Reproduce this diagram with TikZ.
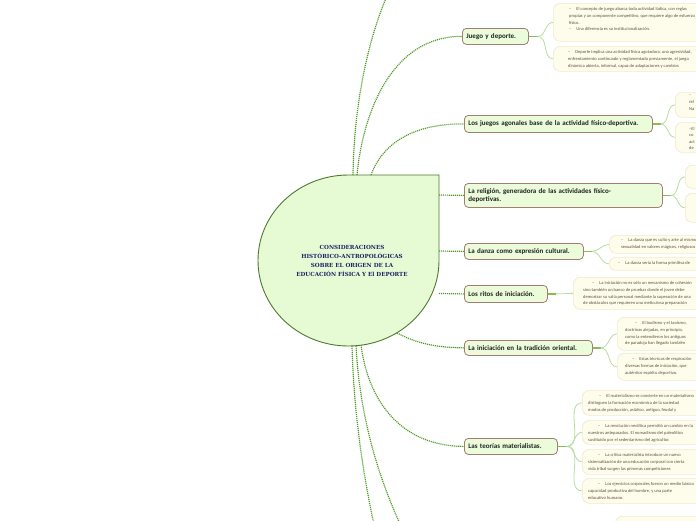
\documentclass[tikz,border=0pt]{standalone}
\usepackage{fontspec}
\setmainfont{Carlito}
\newfontfamily\ctrfont{DejaVu Serif}
\definecolor{ctrfill}{HTML}{E6FAD4}
\definecolor{ctrborder}{HTML}{4E7A2E}
\definecolor{ctrtext}{HTML}{1F2366}
\definecolor{topfill}{HTML}{EAFCDA}
\definecolor{topborder}{HTML}{A57C74}
\definecolor{toptext}{HTML}{222222}
\definecolor{subfill}{HTML}{FEFDEB}
\definecolor{subborder}{HTML}{F1EBCB}
\definecolor{subtext}{HTML}{5E4E40}
\definecolor{dotgreen}{HTML}{4E9A22}
\definecolor{stubgreen}{HTML}{86BE56}
\definecolor{linkgreen}{HTML}{B8DDA0}
\begin{document}
\begin{tikzpicture}[x=1pt,y=-1pt,
 topic/.style={draw=topborder, fill=topfill, line width=0.8pt, rounded corners=4pt, anchor=north west, inner xsep=4pt, inner ysep=0pt, align=left, font=\fontsize{7}{8.3}\selectfont\bfseries, text=toptext},
 subbox/.style={draw=subborder, fill=subfill, line width=0.7pt, rounded corners=7pt, anchor=north west, inner sep=0pt},
 subtxt/.style={anchor=north west, inner sep=0pt, align=left, font=\fontsize{4.5}{6.8}\selectfont, text=subtext},
 mainlink/.style={draw=dotgreen, line width=1.2pt, dash pattern=on 1.1pt off 0.9pt},
 stub/.style={draw=stubgreen, line width=1.6pt},
 sublink/.style={draw=linkgreen, line width=0.8pt},
]
\path[use as bounding box, fill=white] (0,0) rectangle (696,520);
\clip (0,0) rectangle (696,520);

% central shape
\path[draw=ctrborder, fill=ctrfill, line width=0.9pt] (348.5,175) -- (439,175) -- (439,260.5)
  arc[start angle=0, end angle=270, x radius=90.5, y radius=85.5] -- cycle;
\node[font=\ctrfont\bfseries\fontsize{5.6}{8.9}\selectfont, text=ctrtext, align=center, inner sep=0pt] (ctr) at (352,261)
 {CONSIDERACIONES\\HISTÓRICO-ANTROPOLÓGICAS\\SOBRE EL ORIGEN DE LA\\EDUCACIÓN FÍSICA Y El DEPORTE};

% anchor points on the central shape
\coordinate (cUp) at (353,175);
\coordinate (cT1) at (357,175);
\coordinate (cT2) at (371,175);
\coordinate (cT3) at (439,195);
\coordinate (cT4) at (439,251);
\coordinate (cT5) at (439,293.5);
\coordinate (cT6) at (397,333);
\coordinate (cT7) at (361,345);
\coordinate (cB1) at (352,346);
\coordinate (cB2) at (356,346);
\coordinate (ot) at (392,-15);
\coordinate (ob1) at (382,560);
\coordinate (ob2) at (418,560);

% topics
\node[topic, text width=58pt, minimum height=16pt] (t1) at (462,28) {Juego y deporte.};
\node[topic, text width=180pt, minimum height=17pt] (t2) at (464,115) {Los juegos agonales base de la actividad físico-deportiva.};
\node[topic, text width=190pt, minimum height=24pt] (t3) at (464,183) {La religión, generadora de las actividades físico-\\deportivas.};
\node[topic, text width=111pt, minimum height=16pt] (t4) at (464,243) {La danza como expresión cultural.};
\node[topic, text width=75pt, minimum height=17pt] (t5) at (464,285) {Los ritos de iniciación.};
\node[topic, text width=120pt, minimum height=15pt] (t6) at (464,340) {La iniciación en la tradición oriental.};
\node[topic, text width=85pt, minimum height=16pt] (t7) at (464,438) {Las teorías materialistas.};

% main dotted links
\draw[mainlink] (cUp) .. controls (354,100) and (370,30) .. (ot);
\draw[mainlink] (cT1) .. controls (363,112) and (392,36) .. (t1.west);
\draw[mainlink] (cT2) .. controls (380,150) and (405,123.5) .. (t2.west);
\draw[mainlink] (cT3) -- (t3.west);
\draw[mainlink] (cT4) -- (t4.west);
\draw[mainlink] (cT5) -- (t5.west);
\draw[mainlink] (cT6) .. controls (420,345) and (440,347.5) .. (t6.west);
\draw[mainlink] (cT7) .. controls (368,400) and (400,446) .. (t7.west);
\draw[mainlink] (cB1) .. controls (354,420) and (365,490) .. (ob1);
\draw[mainlink] (cB2) .. controls (360,420) and (380,490) .. (ob2);

% sub boxes
\node[subbox, minimum width=200pt, minimum height=38pt] (s11) at (553,3) {};
\node[subbox, minimum width=200pt, minimum height=25pt] (s12) at (553,46) {};
\node[subbox, minimum width=60pt, minimum height=25pt] (s21) at (675,92) {};
\node[subbox, minimum width=60pt, minimum height=30pt] (s22) at (675,122) {};
\node[subbox, minimum width=40pt, minimum height=23pt] (s31) at (685,165) {};
\node[subbox, minimum width=40pt, minimum height=29pt] (s32) at (685,193) {};
\node[subbox, minimum width=120pt, minimum height=18pt] (s41) at (609,235) {};
\node[subbox, rounded corners=6pt, minimum width=120pt, minimum height=13pt] (s42) at (609,257) {};
\node[subbox, minimum width=160pt, minimum height=32pt] (s51) at (573,277) {};
\node[subbox, minimum width=120pt, minimum height=33pt] (s61) at (617,317) {};
\node[subbox, minimum width=120pt, minimum height=27pt] (s62) at (617,353) {};
\node[subbox, minimum width=150pt, minimum height=25pt] (s71) at (582,390) {};
\node[subbox, minimum width=150pt, minimum height=24pt] (s72) at (582,420) {};
\node[subbox, minimum width=150pt, minimum height=25pt] (s73) at (582,449) {};
\node[subbox, minimum width=150pt, minimum height=25pt] (s74) at (582,478) {};
\node[subbox, minimum width=120pt, minimum height=30pt] (s81) at (615,516) {};

% sub texts
\node[subtxt] (s11t) at (569,7.1) {–\hspace{5pt}El concepto de juego abarca toda actividad lúdica, con reglas\\propias y un componente competitivo, que requiere algo de esfuerzo\\físico.\\–\hspace{5pt}Una diferencia es su institucionalización.};
\node[subtxt] (s12t) at (568,50.1) {–\hspace{5pt}Deporte implica una actividad física agotadora, una agresividad,\\enfrentamiento continuado y reglamentado previamente, el juego\\dinámica abierta, informal, capaz de adaptaciones y cambios};
\node[subtxt] (s21t) at (689,95.1) {–\\rel\\Na};
\node[subtxt, font=\fontsize{4.5}{6.5}\selectfont] (s22t) at (689,127.1) {–El\\co\\act\\de};
\node[subtxt] (s41t) at (621,238.1) {–\hspace{5pt}La danza que es culto y arte al mismo\\sexualidad en valores mágicos, religiosos};
\node[subtxt] (s42t) at (618,261.1) {–\hspace{5pt}La danza sería la forma primitiva de};
\node[subtxt] (s51t) at (583,281.1) {\hspace{9pt}–\hspace{5pt}La iniciación no es sólo un mecanismo de cohesión\\sino también un banco de pruebas donde el joven debe\\demostrar su valía personal mediante la superación de una\\de obstáculos que requieren una meticulosa preparación};
\node[subtxt] (s61t) at (625,321.1) {\hspace{10pt}–\hspace{5pt}El budismo y el taoísmo,\\doctrinas alejadas, en principio,\\como la entendieron los antiguos\\de paradoja han llegado también};
\node[subtxt] (s62t) at (625,357.1) {\hspace{7pt}–\hspace{5pt}Estas técnicas de respiración\\diversas formas de iniciación, que\\auténtico espíritu deportivo.};
\node[subtxt] (s71t) at (588,394.1) {\hspace{11pt}–\hspace{5pt}El materialismo se convierte en un materialismo\\distinguen la formación económica de la sociedad\\modos de producción, asiático, antiguo, feudal y};
\node[subtxt] (s72t) at (588,424.1) {\hspace{10pt}–\hspace{5pt}La revolución neolítica permitió un cambio en la\\nuestros antepasados. El nomadismo del paleolítico\\sustituido por el sedentarismo del agricultor.};
\node[subtxt] (s73t) at (588,453.1) {\hspace{10pt}–\hspace{5pt}La crítica materialista introduce un nuevo\\sistematización de una educación corporal con cierta\\vida tribal surgen las primeras competiciones};
\node[subtxt] (s74t) at (588,482.1) {\hspace{10pt}–\hspace{5pt}Los ejercicios corporales fueron un medio básico\\capacidad productiva del hombre, y una parte\\educativo humano.};

% stubs and sub links
\draw[stub] (t1.east) -- ++(9,0) coordinate (t1b);
\draw[sublink] (t1b) to[out=0,in=180] (s11.west);
\draw[sublink] (t1b) to[out=0,in=180] (s12.west);
\draw[stub] (t2.east) -- ++(8,0) coordinate (t2b);
\draw[sublink] (t2b) to[out=0,in=180] (s21.west);
\draw[sublink] (t2b) to[out=0,in=180] (s22.west);
\draw[stub] (t3.east) -- ++(8,0) coordinate (t3b);
\draw[sublink] (t3b) to[out=0,in=180] (s31.west);
\draw[sublink] (t3b) to[out=0,in=180] (s32.west);
\draw[stub] (t4.east) -- ++(8,0) coordinate (t4b);
\draw[sublink] (t4b) to[out=0,in=180] (s41.west);
\draw[sublink] (t4b) to[out=0,in=180] (s42.west);
\draw[stub] (t5.east) -- ++(8,0) coordinate (t5b);
\draw[sublink] (t5b) to[out=0,in=180] (s51.west);
\draw[stub] (t6.east) -- ++(8,0) coordinate (t6b);
\draw[sublink] (t6b) to[out=0,in=180] (s61.west);
\draw[sublink] (t6b) to[out=0,in=180] (s62.west);
\draw[stub] (t7.east) -- ++(9,0) coordinate (t7b);
\draw[sublink] (t7b) to[out=0,in=180] (s71.west);
\draw[sublink] (t7b) to[out=0,in=180] (s72.west);
\draw[sublink] (t7b) to[out=0,in=180] (s73.west);
\draw[sublink] (t7b) to[out=0,in=180] (s74.west);
\end{tikzpicture}
\end{document}
